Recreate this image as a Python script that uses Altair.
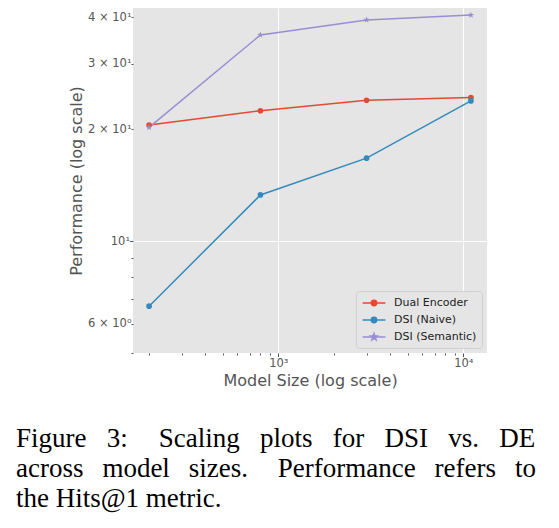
import math
import altair as alt
import pandas as pd

# ---------------- data ----------------
model_sizes = [200, 800, 3000, 11000]
dual_encoder = [20.5, 22.4, 23.9, 24.3]
dsi_naive = [6.68, 13.3, 16.7, 23.8]
dsi_semantic = [20.2, 35.8, 39.3, 40.5]
series_names = ["Dual Encoder", "DSI (Naive)", "DSI (Semantic)"]
series_colors = ["#E24A33", "#348ABD", "#988ED5"]

x_ticks = [200, 300, 400, 500, 600, 700, 800, 900, 1000,
           2000, 3000, 4000, 5000, 6000, 7000, 8000, 9000, 10000]
x_major = [1000, 10000]
x_major_labels = ["10³", "10⁴"]
y_ticks = [5, 6, 7, 8, 9, 10, 20, 30, 40]
y_labelled = [6, 10, 20, 30, 40]
y_labels = ["6 × 10⁰", "10¹", "2 × 10¹", "3 × 10¹", "4 × 10¹"]
y_major = [10]

# caption words per line; gaps after a sentence / colon are wider
caption_words = [
    ["Figure", "3:", "Scaling", "plots", "for", "DSI", "vs.", "DE"],
    ["across", "model", "sizes.", "Performance", "refers", "to"],
    ["the", "Hits@1", "metric."],
]
caption_wide_gap_after = ["3:", "sizes."]

rows = []
for name, vals in zip(series_names, [dual_encoder, dsi_naive, dsi_semantic]):
    for s, v in zip(model_sizes, vals):
        rows.append({"size": s, "perf": v, "series": name})
df = pd.DataFrame(rows)

# ---------------- caption justification (approximate, Times metrics) ----------------
CAP_FONT = 27
CAP_WIDTH = 520
TIMES = {
    "F": 556, "i": 278, "g": 500, "u": 500, "r": 333, "e": 444, "3": 500, ":": 278,
    "S": 556, "c": 444, "a": 444, "l": 278, "n": 500, "p": 500, "o": 500, "t": 278,
    "s": 389, "f": 333, "D": 722, "I": 333, "v": 500, ".": 250, "E": 611, "m": 778,
    "d": 500, "z": 444, "P": 556, "h": 500, "H": 722, "@": 921, "1": 500,
}

def word_w(w):
    return sum(TIMES.get(ch, 500) for ch in w) / 1000 * CAP_FONT

def gap_string(px):
    # regular space (0.25em) + NBSP (0.25em) + thin space (0.2em) combinations
    best = None
    for a in range(0, 10):
        for b in range(0, 4):
            w = CAP_FONT * (0.25 + 0.25 * a + 0.2 * b)
            err = abs(w - px)
            if best is None or err < best[0]:
                best = (err, a, b)
    _, a, b = best
    return " " + "\u00a0" * a + "\u2009" * b

caption_lines = []
for li, words in enumerate(caption_words):
    if li == len(caption_words) - 1:
        caption_lines.append(" ".join(words))
        continue
    weights = [1.5 if w in caption_wide_gap_after else 1.0 for w in words[:-1]]
    free = CAP_WIDTH - sum(word_w(w) for w in words)
    unit = free / sum(weights)
    s = words[0]
    for w, wt in zip(words[1:], weights):
        s += gap_string(unit * wt) + w
    caption_lines.append(s)

# ---------------- helpers ----------------
def star_path(r_out=1.0, r_in=0.42):
    pts = []
    for i in range(10):
        r = r_out if i % 2 == 0 else r_in
        a = -math.pi / 2 + i * math.pi / 5
        pts.append((r * math.cos(a), r * math.sin(a)))
    return "M" + "L".join(f"{x:.3f},{y:.3f}" for x, y in pts) + "Z"

def circle_path(r):
    return (f"M{-r},0A{r},{r} 0 1,0 {r},0A{r},{r} 0 1,0 {-r},0Z")

STAR = star_path()
leg_line = "M-1.9,0L1.9,0"
leg_circle = leg_line + circle_path(0.45)
leg_star = leg_line + star_path(0.6, 0.25)

def label_expr(values, labels):
    parts = [f"datum.value == {v} ? '{l}'" for v, l in zip(values, labels)]
    return " : ".join(parts) + " : ''"

x_major_test = " || ".join(f"datum.value == {v}" for v in x_major)
y_major_test = " || ".join(f"datum.value == {v}" for v in y_major)

axis_common = dict(
    domain=False,
    grid=True,
    gridColor="white",
    gridWidth=1,
    tickColor="#555555",
    labelColor="#555555",
    labelFont="DejaVu Sans",
    labelFontSize=11.5,
    labelFlush=False,
    labelOverlap=False,
    titleFont="DejaVu Sans",
    titleFontSize=16,
    titleFontWeight="normal",
    titleColor="#555555",
)

x_axis = alt.Axis(
    values=x_ticks,
    labelExpr=label_expr(x_major, x_major_labels),
    title="Model Size (log scale)",
    gridOpacity={"condition": {"test": x_major_test, "value": 1}, "value": 0},
    tickSize={"condition": {"test": x_major_test, "value": 3.5}, "value": 2},
    labelPadding=1,
    titlePadding=3,
    **axis_common,
)

y_axis = alt.Axis(
    values=y_ticks,
    labelExpr=label_expr(y_labelled, y_labels),
    title="Performance (log scale)",
    gridOpacity={"condition": {"test": y_major_test, "value": 1}, "value": 0},
    tickSize={"condition": {"test": y_major_test, "value": 3.5}, "value": 2},
    labelPadding=0,
    titlePadding=3,
    **axis_common,
)

legend = alt.Legend(
    title=None,
    orient="bottom-right",
    offset=5,
    fillColor="#E5E5E5",
    strokeColor="#D0D0D0",
    cornerRadius=3,
    padding=5,
    symbolSize=144,
    symbolOffset=6,
    symbolStrokeWidth=1.5,
    symbolOpacity=1,
    symbolType={"expr": f"datum.value == 'DSI (Semantic)' ? '{leg_star}' : '{leg_circle}'"},
    symbolFillColor={"expr": "scale('color', datum.value)"},
    symbolStrokeColor={"expr": "scale('color', datum.value)"},
    labelOffset=13,
    labelFont="DejaVu Sans",
    labelFontSize=11,
    labelColor="#222222",
    rowPadding=4,
)

base = alt.Chart(df).encode(
    x=alt.X("size:Q", scale=alt.Scale(type="log", domain=[163.7, 13440], nice=False), axis=x_axis),
    y=alt.Y("perf:Q", scale=alt.Scale(type="log", domain=[5.0, 42.3], nice=False), axis=y_axis),
    color=alt.Color("series:N", scale=alt.Scale(domain=series_names, range=series_colors),
                    sort=series_names, legend=legend),
)

lines = base.mark_line(strokeWidth=1.5)
circles = base.transform_filter(alt.datum.series != "DSI (Semantic)").mark_point(
    filled=True, opacity=1, size=32, shape="circle")
stars = base.transform_filter(alt.datum.series == "DSI (Semantic)").mark_point(
    filled=True, opacity=1, size=45, shape=STAR)

chart = alt.layer(lines, circles, stars).properties(
    width=354,
    height=345,
    title=alt.TitleParams(
        caption_lines,
        orient="bottom",
        anchor="start",
        frame="group",
        dx=-117,
        offset=38,
        font="Liberation Serif",
        fontSize=CAP_FONT,
        fontWeight="normal",
        lineHeight=30,
        color="black",
    ),
    autosize=alt.AutoSizeParams(type="none"),
    padding={"left": 125, "top": 0, "right": 64, "bottom": 167},
).configure_view(fill="#E5E5E5", stroke=None)

chart.save("out.html", embed_options={"renderer": "svg", "actions": False})
